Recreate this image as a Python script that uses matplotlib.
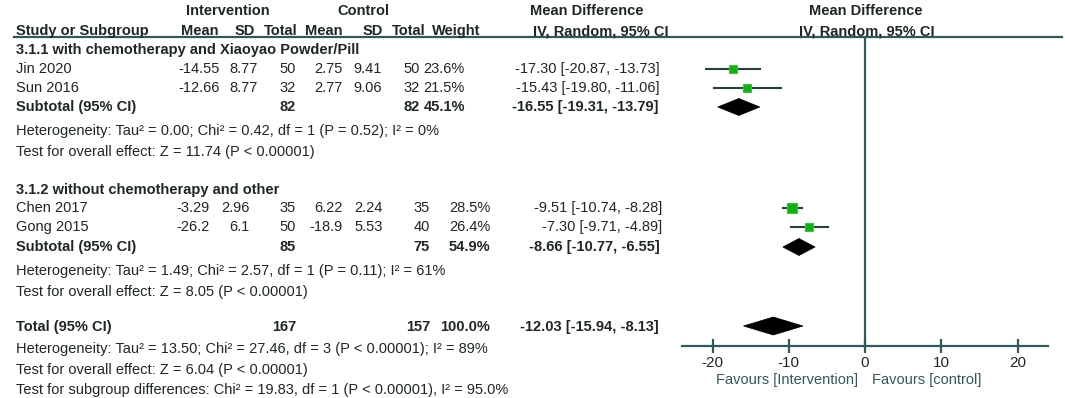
import matplotlib
matplotlib.use("Agg")
import matplotlib.pyplot as plt
from matplotlib.patches import Polygon

plt.rcParams['font.family'] = ['Liberation Sans', 'DejaVu Sans']
plt.rcParams['axes.unicode_minus'] = False

# study level data
studies = ["Jin 2020", "Sun 2016", "Chen 2017", "Gong 2015"]
int_mean = ["-14.55", "-12.66", "-3.29", "-26.2"]
int_sd = ["8.77", "8.77", "2.96", "6.1"]
int_n = ["50", "32", "35", "50"]
ctl_mean = ["2.75", "2.77", "6.22", "-18.9"]
ctl_sd = ["9.41", "9.06", "2.24", "5.53"]
ctl_n = ["50", "32", "35", "40"]
weights = ["23.6%", "21.5%", "28.5%", "26.4%"]
md = [-17.30, -15.43, -9.51, -7.30]
md_lo = [-20.87, -19.80, -10.74, -9.71]
md_hi = [-13.73, -11.06, -8.28, -4.89]
box_size = [5.8, 5.5, 6.5, 6.0]

# subgroups
groups = ["3.1.1 with chemotherapy and Xiaoyao Powder/Pill", "3.1.2 without chemotherapy and other"]
sub_int_n = ["82", "85"]
sub_ctl_n = ["82", "75"]
sub_weight = ["45.1%", "54.9%"]
sub_md = [-16.55, -8.66]
sub_lo = [-19.31, -10.77]
sub_hi = [-13.79, -6.55]
sub_het = ["Heterogeneity: Tau² = 0.00; Chi² = 0.42, df = 1 (P = 0.52); I² = 0%",
           "Heterogeneity: Tau² = 1.49; Chi² = 2.57, df = 1 (P = 0.11); I² = 61%"]
sub_test = ["Test for overall effect: Z = 11.74 (P < 0.00001)",
            "Test for overall effect: Z = 8.05 (P < 0.00001)"]

# overall
tot_int_n = "167"
tot_ctl_n = "157"
tot_weight = "100.0%"
tot_md, tot_lo, tot_hi = -12.03, -15.94, -8.13
tot_notes = ["Heterogeneity: Tau² = 13.50; Chi² = 27.46, df = 3 (P < 0.00001); I² = 89%",
             "Test for overall effect: Z = 6.04 (P < 0.00001)",
             "Test for subgroup differences: Chi² = 19.83, df = 1 (P < 0.00001), I² = 95.0%"]

xticks = [-20, -10, 0, 10, 20]

W, H = 1065, 398
txt = "#1e2626"
teal = "#2f5a5a"
fs = 10.5

fig = plt.figure(figsize=(W / 100, H / 100), dpi=100)
bg = fig.add_axes([0, 0, 1, 1])
bg.set_xlim(0, W)
bg.set_ylim(H, 0)
bg.axis("off")

# forest panel, y in pixel rows
ax = fig.add_axes([682 / W, 0, (1048 - 682) / W, 1])
ax.set_xlim(-24, 24)
ax.set_ylim(H, 0)
ax.patch.set_alpha(0)
for s in ["top", "left", "right"]:
    ax.spines[s].set_visible(False)
ax.spines["bottom"].set_position(("data", 346))
ax.spines["bottom"].set_color(teal)
ax.spines["bottom"].set_linewidth(1.6)
ax.set_yticks([])
ax.set_xticks(xticks)
ax.tick_params(axis="x", direction="inout", length=10, width=1.6, color=teal,
               labelcolor=txt, labelsize=fs + 0.5, pad=2)

# header
bg.text(228, 11, "Intervention", ha="center", va="center", fontsize=fs, fontweight="bold", color=txt)
bg.text(363, 11, "Control", ha="center", va="center", fontsize=fs, fontweight="bold", color=txt)
bg.text(587, 11, "Mean Difference", ha="center", va="center", fontsize=fs, fontweight="bold", color=txt)
bg.text(866, 11, "Mean Difference", ha="center", va="center", fontsize=fs, fontweight="bold", color=txt)
bg.text(16, 31, "Study or Subgroup", ha="left", va="center", fontsize=fs, fontweight="bold", color=txt)
for lbl, xr in zip(["Mean", "SD", "Total", "Mean", "SD", "Total", "Weight"],
                   [218, 255, 298, 343, 383, 425, 480]):
    bg.text(xr, 31, lbl, ha="right", va="center", fontsize=fs, fontweight="bold", color=txt)
bg.text(601, 31, "IV, Random, 95% CI", ha="center", va="center", fontsize=fs, fontweight="bold", color=txt)
bg.text(867, 31, "IV, Random, 95% CI", ha="center", va="center", fontsize=fs, fontweight="bold", color=txt)
bg.plot([14, 1062], [37, 37], color=teal, lw=1.6)

# rows: per group (title, study rows, subtotal, het, test)
group_rows = [dict(title=50, rows=[69, 88], sub=107, het=131, test=152),
              dict(title=190, rows=[208, 227], sub=247, het=271, test=292)]
cols = [dict(m=220, sd=258, n=296, cm=343, csd=382, cn=420, w=465, md=660),
        dict(m=210, sd=250, n=296, cm=343, csd=383, cn=430, w=490, md=662)]

ax.vlines(0, 37, 346, color=teal, lw=1.6)

def diamond(a, y, c, lo, hi, h=8.5):
    a.add_patch(Polygon([[lo, y], [c, y - h], [hi, y], [c, y + h]], closed=True,
                        facecolor="black", edgecolor="black", lw=0.5))

for g in range(2):
    r = group_rows[g]
    c = cols[g]
    bg.text(16, r["title"], groups[g], ha="left", va="center", fontsize=fs, fontweight="bold", color=txt)
    for k, y in enumerate(r["rows"]):
        i = 2 * g + k
        bg.text(16, y, studies[i], ha="left", va="center", fontsize=fs, color=txt)
        for key, val in zip(["m", "sd", "n", "cm", "csd", "cn", "w"],
                            [int_mean[i], int_sd[i], int_n[i], ctl_mean[i], ctl_sd[i], ctl_n[i], weights[i]]):
            bg.text(c[key], y, val, ha="right", va="center", fontsize=fs, color=txt)
        bg.text(c["md"], y, "%.2f [%.2f, %.2f]" % (md[i], md_lo[i], md_hi[i]),
                ha="right", va="center", fontsize=fs, color=txt)
        ax.plot([md_lo[i], md_hi[i]], [y, y], color="#23403f", lw=1.5)
        ax.plot(md[i], y, marker="s", ms=box_size[i], color="#10b010",
                markeredgecolor="#40c040", markeredgewidth=0.8)
    y = r["sub"]
    bg.text(16, y, "Subtotal (95% CI)", ha="left", va="center", fontsize=fs, fontweight="bold", color=txt)
    bg.text(c["n"], y, sub_int_n[g], ha="right", va="center", fontsize=fs, fontweight="bold", color=txt)
    bg.text(c["cn"], y, sub_ctl_n[g], ha="right", va="center", fontsize=fs, fontweight="bold", color=txt)
    bg.text(c["w"], y, sub_weight[g], ha="right", va="center", fontsize=fs, fontweight="bold", color=txt)
    bg.text(c["md"] - 2, y, "%.2f [%.2f, %.2f]" % (sub_md[g], sub_lo[g], sub_hi[g]),
            ha="right", va="center", fontsize=fs, fontweight="bold", color=txt)
    diamond(ax, y, sub_md[g], sub_lo[g], sub_hi[g])
    bg.text(16, r["het"], sub_het[g], ha="left", va="center", fontsize=fs, color=txt)
    bg.text(16, r["test"], sub_test[g], ha="left", va="center", fontsize=fs, color=txt)

# total
yt = 327
bg.text(16, yt, "Total (95% CI)", ha="left", va="center", fontsize=fs, fontweight="bold", color=txt)
bg.text(296, yt, tot_int_n, ha="right", va="center", fontsize=fs, fontweight="bold", color=txt)
bg.text(430, yt, tot_ctl_n, ha="right", va="center", fontsize=fs, fontweight="bold", color=txt)
bg.text(490, yt, tot_weight, ha="right", va="center", fontsize=fs, fontweight="bold", color=txt)
bg.text(659, yt, "%.2f [%.2f, %.2f]" % (tot_md, tot_lo, tot_hi),
        ha="right", va="center", fontsize=fs, fontweight="bold", color=txt)
diamond(ax, yt - 1, tot_md, tot_lo, tot_hi, h=9)
for note, y in zip(tot_notes, [349, 370, 390]):
    bg.text(16, y, note, ha="left", va="center", fontsize=fs, color=txt)

bg.text(858, 380, "Favours [Intervention]", ha="right", va="center", fontsize=fs, color=teal)
bg.text(872, 380, "Favours [control]", ha="left", va="center", fontsize=fs, color=teal)

fig.savefig("out.png", dpi=100)
